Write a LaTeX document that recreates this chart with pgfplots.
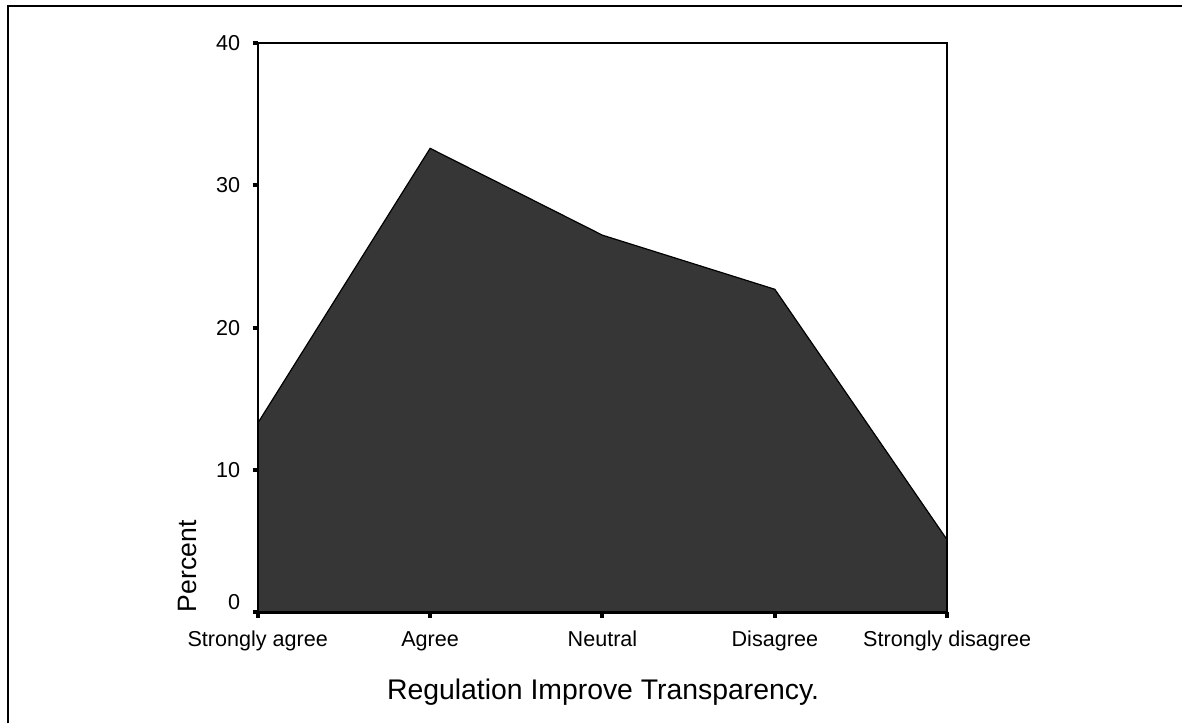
\documentclass[border=0pt]{standalone}
\usepackage{pgfplots}
\pgfplotsset{compat=1.18}
\usepackage{fontspec}
\setmainfont{Liberation Sans}
\definecolor{areagray}{RGB}{54,54,54}
\begin{document}
\begin{tikzpicture}
% page frame (1px = 0.5pt)
\path (0,0) rectangle (591.5pt,-362pt);
\draw[line width=1pt] (4.2pt,-362pt) -- (4.2pt,-3pt) -- (591.5pt,-3pt);
\begin{axis}[at={(129pt,-306.5pt)}, anchor=south west,
	scale only axis, width=345pt, height=285pt,
	xmin=0, xmax=4, ymin=0, ymax=40,
	xtick={0,1,2,3,4},
	xticklabels={Strongly agree,Agree,Neutral,Disagree,Strongly disagree},
	ytick={0,10,20,30,40},
	yticklabels={\raisebox{5.5pt}{0},10,20,30,40},
	xtick pos=bottom, ytick pos=left,
	tick align=outside, major tick length=2.6pt,
	tick style={line width=2pt, black},
	axis line style={line width=0.7pt},
	xticklabel style={font=\fontsize{10.8}{12}\selectfont, anchor=base, inner sep=0pt, yshift=-14.5pt},
	yticklabel style={font=\fontsize{10.8}{12}\selectfont, anchor=base east, inner sep=0pt, xshift=-6pt, yshift=-3.8pt},
	clip=false, axis on top
	]
	\addplot[fill=areagray, draw=black, line width=0.6pt] coordinates {
		(0,13.3) (1,32.6) (2,26.5) (3,22.7) (4,5.1)
	} \closedcycle;
	\draw[line width=1.2pt] (rel axis cs:0,1) -- (rel axis cs:0,0) -- (rel axis cs:1,0);
\end{axis}
\node[rotate=90, anchor=base west, inner sep=0pt, font=\fontsize{13.3}{15}\selectfont] at (98.5pt,-306.5pt) {Percent};
\node[anchor=base, inner sep=0pt, font=\fontsize{14.2}{16}\selectfont] at (301.8pt,-350pt) {Regulation Improve Transparency.};
\end{tikzpicture}
\end{document}
